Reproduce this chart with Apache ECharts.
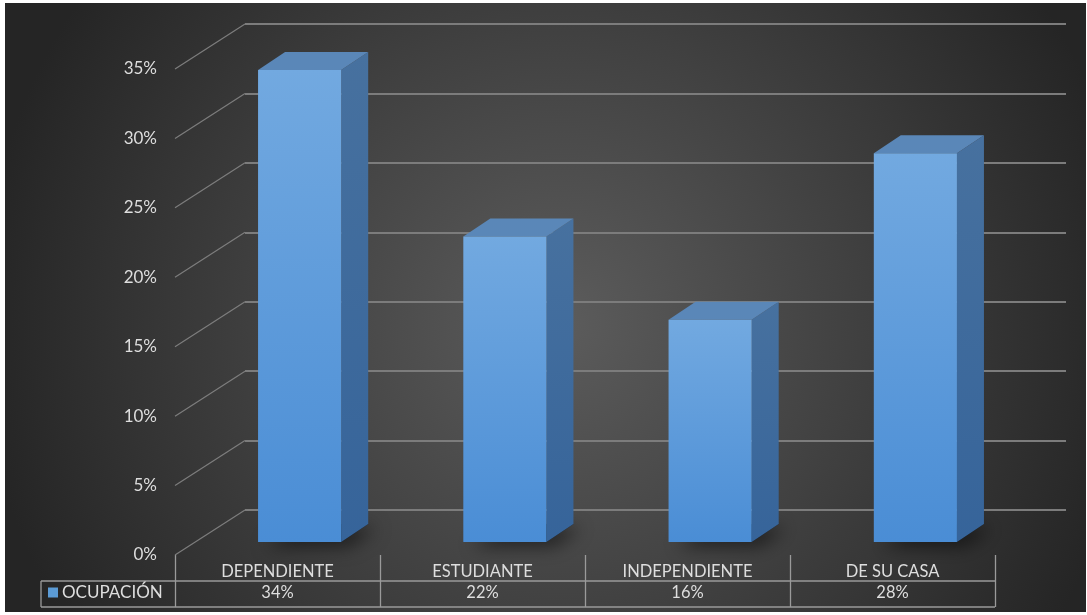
<!DOCTYPE html>
<html>
<head>
<meta charset="utf-8">
<script src="https://cdn.jsdelivr.net/npm/echarts@6/dist/echarts.min.js"></script>
<style>
html,body{margin:0;padding:0;background:#ffffff;width:1087px;height:615px;overflow:hidden;}
#c{position:absolute;left:5px;top:3px;width:1081px;height:609px;}
</style>
</head>
<body>
<div id="c"></div>
<script>
const categories = ['DEPENDIENTE', 'ESTUDIANTE', 'INDEPENDIENTE', 'DE SU CASA'];
const values = [34, 22, 16, 28];
const seriesName = 'OCUPACIÓN';
const yTicks = [0, 5, 10, 15, 20, 25, 30, 35];

const FONT = 'Lato';
const TXT = '#dedede';

const chart = echarts.init(document.getElementById('c'), null, {renderer: 'canvas'});

function renderBar(params, api) {
  const i = api.value(0), v = api.value(1);
  const top = api.coord([i, v]);
  const base = api.coord([i, 0]);
  const band = api.size([1, 0])[0];
  const w = band * 0.405;
  const offX = -48, offY = 32;   // front face offset from back wall
  const dX = 27, dY = -18;       // depth
  const cx = top[0] + offX;
  const x0 = cx - w / 2, x1 = cx + w / 2;
  const yT = top[1] + offY, yB = base[1] + offY;
  return {
    type: 'group',
    children: [
      {type: 'polygon', shape: {points: [[x0, yB], [x1, yB], [x1 + dX, yB + dY], [x0 + dX, yB + dY]]},
       style: {fill: 'rgba(0,0,0,0.6)', shadowBlur: 18, shadowColor: 'rgba(0,0,0,0.95)', shadowOffsetX: 8, shadowOffsetY: 4}},
      {type: 'polygon', shape: {points: [[x1, yT], [x1 + dX, yT + dY], [x1 + dX, yB + dY], [x1, yB]]},
       style: {fill: new echarts.graphic.LinearGradient(0, 0, 0, 1, [{offset: 0, color: '#47719f'}, {offset: 1, color: '#36649a'}])}},
      {type: 'polygon', shape: {points: [[x0, yT], [x1, yT], [x1 + dX, yT + dY], [x0 + dX, yT + dY]]},
       style: {fill: '#5a87b8'}},
      {type: 'rect', shape: {x: x0, y: yT, width: w, height: yB - yT},
       style: {fill: new echarts.graphic.LinearGradient(0, 0, 0, 1, [{offset: 0, color: '#72a9e0'}, {offset: 1, color: '#4a8dd5'}])}}
    ]
  };
}

function renderDiag(params, api) {
  const p = api.coord([0, api.value(1)]);
  const x0 = params.coordSys.x;
  return {type: 'line', shape: {x1: x0, y1: p[1], x2: x0 - 70, y2: p[1] + 45},
          style: {stroke: '#7d7d7d', lineWidth: 1.2}};
}

function renderVal(params, api) {
  const i = api.value(0), v = api.value(1);
  const p = api.coord([i, 0]);
  return {type: 'text', x: p[0], y: p[1] + 38,
          style: {text: v + '%', fill: TXT, font: '16.5px ' + FONT, align: 'center', verticalAlign: 'middle'}};
}

const option = {
  backgroundColor: {type: 'radial', x: 555, y: 320, r: 580, global: true,
    colorStops: [{offset: 0, color: '#5c5c5c'}, {offset: 0.5, color: '#414141'}, {offset: 1, color: '#252525'}]},
  textStyle: {fontFamily: FONT},
  legend: {
    data: [{name: seriesName, icon: 'rect'}],
    left: 43, top: 581, padding: 0, itemWidth: 10, itemHeight: 10, itemGap: 6,
    textStyle: {color: TXT, fontSize: 17, fontFamily: FONT, padding: [0, 0, 0, -1]}
  },
  grid: [
    {left: 240, width: 821, top: 21, height: 486},
    {left: 170, width: 820, top: 66, height: 486}
  ],
  xAxis: [
    {gridIndex: 0, type: 'category', data: categories, show: false},
    {gridIndex: 1, type: 'category', data: categories, boundaryGap: true,
     axisLine: {show: false},
     axisTick: {show: true, interval: 0, alignWithLabel: false, length: 52, lineStyle: {color: '#9a9a9a', width: 1.3}},
     axisLabel: {color: TXT, fontSize: 16.5, fontFamily: FONT, margin: 8, interval: 0}}
  ],
  yAxis: [
    {gridIndex: 0, type: 'value', min: yTicks[0], max: yTicks[yTicks.length - 1], interval: yTicks[1] - yTicks[0],
     axisLabel: {show: false}, axisLine: {show: false}, axisTick: {show: false},
     splitLine: {lineStyle: {color: '#7c7c7c', width: 2}}},
    {gridIndex: 1, type: 'value', min: yTicks[0], max: yTicks[yTicks.length - 1], interval: yTicks[1] - yTicks[0],
     axisLabel: {formatter: '{value}%', color: TXT, fontSize: 17, fontFamily: FONT, margin: 18},
     axisLine: {show: false}, axisTick: {show: false}, splitLine: {show: false}}
  ],
  series: [
    {type: 'custom', name: 'diag', xAxisIndex: 0, yAxisIndex: 0, silent: true, clip: false,
     data: yTicks.map(v => [0, v]), renderItem: renderDiag, z: 1},
    {type: 'custom', name: seriesName, xAxisIndex: 0, yAxisIndex: 0, clip: false,
     itemStyle: {color: '#5b9bd5'},
     data: values.map((v, i) => [i, v]), renderItem: renderBar, z: 3},
    {type: 'custom', name: 'tableValues', xAxisIndex: 1, yAxisIndex: 1, silent: true, clip: false,
     data: values.map((v, i) => [i, v]), renderItem: renderVal, z: 3}
  ],
  graphic: [
    {type: 'line', shape: {x1: 36, y1: 578, x2: 990, y2: 578}, style: {stroke: '#9a9a9a', lineWidth: 1.3}, silent: true},
    {type: 'line', shape: {x1: 36, y1: 604, x2: 990, y2: 604}, style: {stroke: '#9a9a9a', lineWidth: 1.3}, silent: true},
    {type: 'line', shape: {x1: 36, y1: 578, x2: 36, y2: 604}, style: {stroke: '#9a9a9a', lineWidth: 1.3}, silent: true}
  ],
  animation: false
};
chart.setOption(option);
</script>
</body>
</html>
